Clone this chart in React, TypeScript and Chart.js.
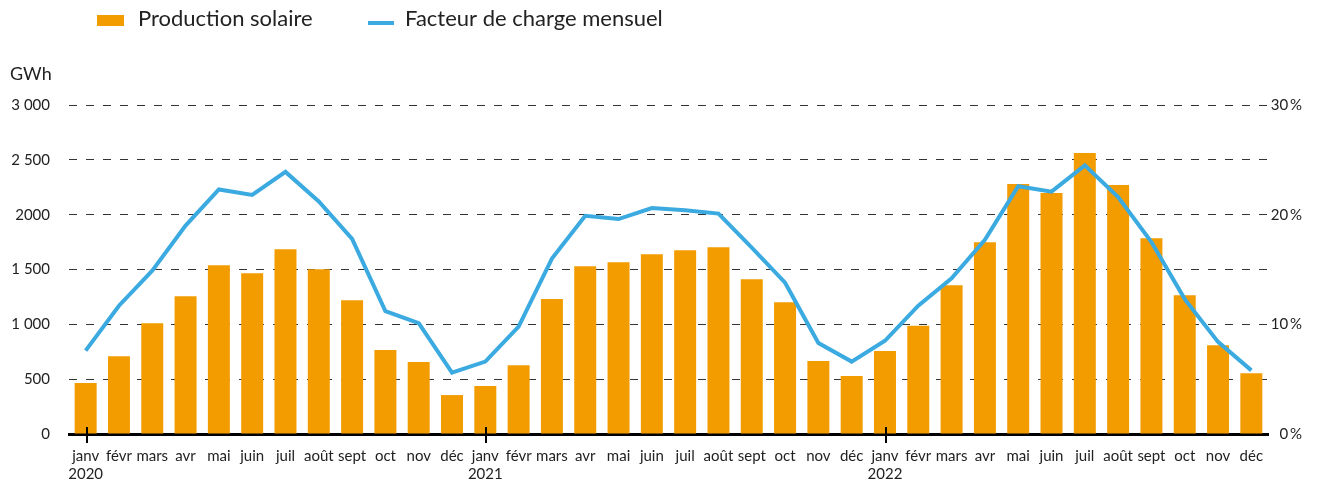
import React, { useEffect, useRef } from "react";
import { Chart, registerables } from "chart.js";

Chart.register(...registerables);

const months = ["janv", "févr", "mars", "avr", "mai", "juin", "juil", "août", "sept", "oct", "nov", "déc"];
const years = ["2020", "2021", "2022"];

const production2020 = [465, 710, 1010, 1257, 1539, 1466, 1685, 1503, 1220, 765, 656, 355];
const production2021 = [437, 628, 1230, 1530, 1566, 1639, 1676, 1703, 1412, 1202, 665, 528];
const production2022 = [756, 986, 1357, 1749, 2279, 2198, 2562, 2270, 1785, 1266, 810, 555];

const loadFactor2020 = [7.6, 11.7, 14.9, 19.0, 22.3, 21.8, 23.9, 21.2, 17.8, 11.2, 10.1, 5.6];
const loadFactor2021 = [6.6, 9.8, 16.0, 19.9, 19.6, 20.6, 20.4, 20.1, 17.0, 13.8, 8.3, 6.6];
const loadFactor2022 = [8.5, 11.7, 14.2, 17.7, 22.6, 22.1, 24.5, 21.6, 17.5, 12.3, 8.4, 5.8];

const leftTickLabels: Record<number, string> = {
  0: "0",
  500: "500",
  1000: "1 000",
  1500: "1 500",
  2000: "2000",
  2500: "2 500",
  3000: "3 000",
};

const seriesLabels = ["Production solaire", "Facteur de charge mensuel"];
const unitLabel = "GWh";

const ORANGE = "#F39C00";
const BLUE = "#3AAAE0";
const TEXT = "#222222";
const FONT = "Lato, 'Open Sans', sans-serif";

const categories: (string | string[])[] = [];
years.forEach((y) => months.forEach((m, i) => categories.push(i === 0 ? [m, y] : m)));
const production = [...production2020, ...production2021, ...production2022];
const loadFactor = [...loadFactor2020, ...loadFactor2021, ...loadFactor2022];

const decorPlugin = {
  id: "decor",
  afterDraw(chart: any) {
    const ctx = chart.ctx as CanvasRenderingContext2D;
    const x = chart.scales.x;
    const area = chart.chartArea;
    ctx.save();
    // year ticks at janv
    ctx.strokeStyle = "#000";
    ctx.lineWidth = 2;
    categories.forEach((c, i) => {
      if (Array.isArray(c)) {
        const px = Math.round(x.getPixelForValue(i)) + 1;
        ctx.beginPath();
        ctx.moveTo(px, area.bottom - 7);
        ctx.lineTo(px, area.bottom + 9);
        ctx.stroke();
      }
    });
    // unit label
    ctx.fillStyle = TEXT;
    ctx.font = `18px ${FONT}`;
    ctx.textBaseline = "alphabetic";
    ctx.textAlign = "left";
    ctx.fillText(unitLabel, 10, 80);
    // legend
    ctx.font = `22px ${FONT}`;
    ctx.fillStyle = ORANGE;
    ctx.fillRect(97, 15, 27, 11);
    ctx.fillStyle = TEXT;
    ctx.fillText(seriesLabels[0], 138, 26);
    ctx.fillStyle = BLUE;
    ctx.fillRect(368, 21, 26, 4);
    ctx.fillStyle = TEXT;
    ctx.fillText(seriesLabels[1], 405, 26);
    ctx.restore();
  },
};

export default function App() {
  const ref = useRef<HTMLCanvasElement | null>(null);
  useEffect(() => {
    document.body.style.margin = "0";
    const canvas = ref.current!;
    const chart = new Chart(canvas, {
      type: "bar",
      data: {
        labels: categories,
        datasets: [
          {
            type: "line",
            label: seriesLabels[1],
            data: loadFactor,
            yAxisID: "y1",
            borderColor: BLUE,
            backgroundColor: BLUE,
            borderWidth: 4,
            pointRadius: 0,
            tension: 0,
            order: 0,
          } as any,
          {
            type: "bar",
            label: seriesLabels[0],
            data: production,
            yAxisID: "y",
            backgroundColor: ORANGE,
            categoryPercentage: 1,
            barPercentage: 0.66,
            order: 1,
          },
        ],
      },
      options: {
        animation: false,
        responsive: false,
        devicePixelRatio: 1,
        layout: { padding: { top: 105, left: 0, right: 15, bottom: 0 } },
        plugins: { legend: { display: false }, tooltip: { enabled: false }, title: { display: false } },
        scales: {
          x: {
            grid: { display: false },
            border: { display: true, color: "#000", width: 3 },
            ticks: {
              color: TEXT,
              font: { family: FONT, size: 15 },
              padding: 5,
              maxRotation: 0,
              autoSkip: false,
            },
            afterFit: (s: any) => {
              s.height = 50;
            },
          },
          y: {
            position: "left",
            min: 0,
            max: 3000,
            grid: {
              drawTicks: false,
              color: (c: any) => (c.tick && c.tick.value === 0 ? "rgba(0,0,0,0)" : "#333"),
              lineWidth: 1,
            },
            border: { display: false, dash: [8, 9] },
            ticks: {
              stepSize: 500,
              color: TEXT,
              font: { family: FONT, size: 15 },
              padding: 19,
              callback: (v: any) => leftTickLabels[v as number] ?? String(v),
            },
            afterFit: (s: any) => {
              s.width = 69;
            },
          },
          y1: {
            position: "right",
            min: 0,
            max: 30,
            grid: { display: false, drawOnChartArea: false, drawTicks: false },
            border: { display: false },
            ticks: {
              stepSize: 5,
              color: TEXT,
              font: { family: FONT, size: 15 },
              padding: 1,
              crossAlign: "far",
              callback: (v: any) => ((v as number) % 10 === 0 ? `${v}\u2009%` : ""),
            },
            afterFit: (s: any) => {
              s.width = 34;
            },
          },
        },
      },
      plugins: [decorPlugin],
    });
    return () => chart.destroy();
  }, []);
  return (
    <div style={{ position: "absolute", left: 0, top: 0, width: 1317, height: 484 }}>
      <canvas ref={ref} width={1317} height={484} style={{ display: "block" }} />
    </div>
  );
}
